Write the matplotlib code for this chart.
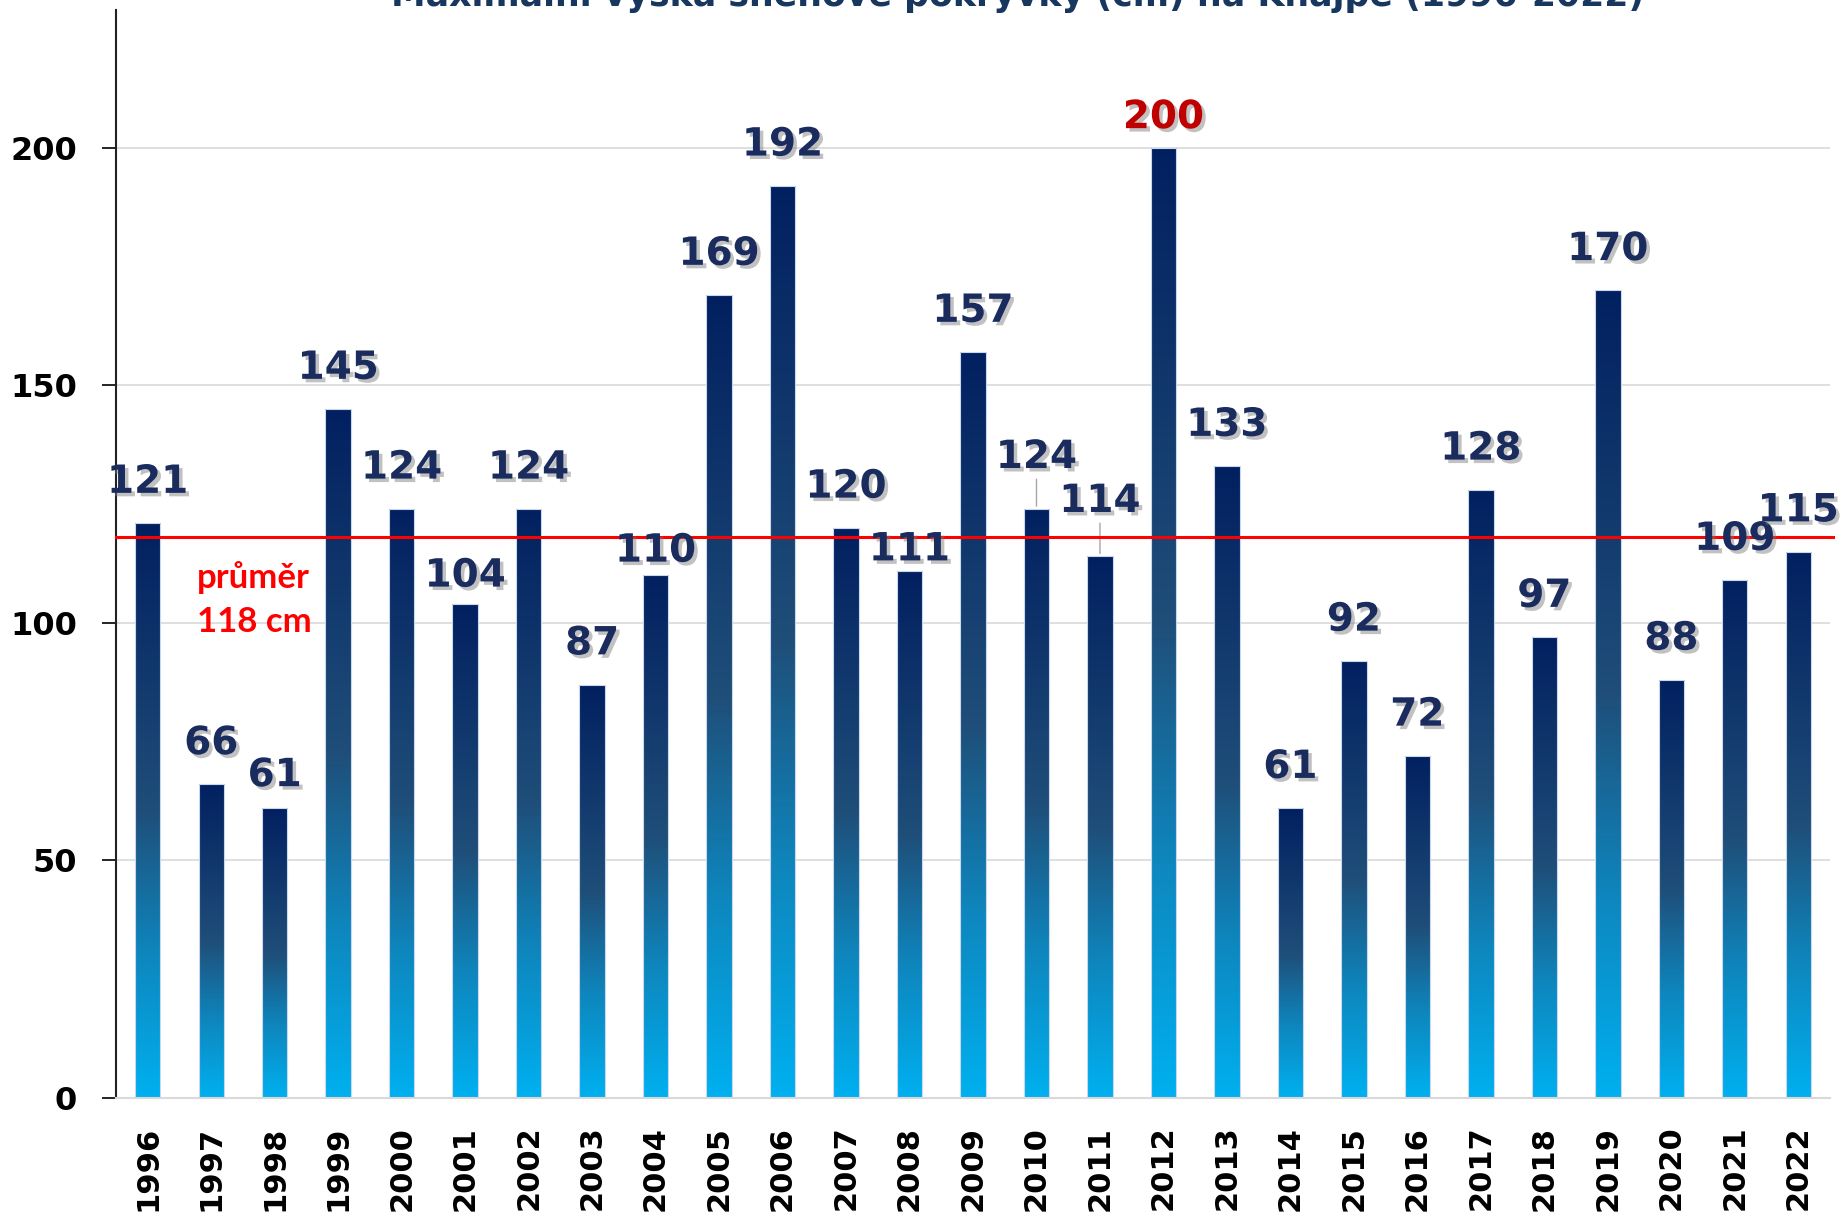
import matplotlib
matplotlib.use("Agg")
import matplotlib.pyplot as plt
import matplotlib.patheffects as pe
from matplotlib.colors import LinearSegmentedColormap
import numpy as np

# data
years = list(range(1996, 2023))
snow = [121, 66, 61, 145, 124, 104, 124, 87, 110, 169, 192, 120, 111, 157,
        124, 114, 200, 133, 61, 92, 72, 128, 97, 170, 88, 109, 115]
average = 118
title = "Maximální výška sněhové pokrývky (cm) na Knajpe (1996-2022)"

# gradient bottom -> top
cmap = LinearSegmentedColormap.from_list(
    "snow", [(0.0, "#00B0F0"), (0.25, "#0E86BD"), (0.5, "#1F4E79"), (1.0, "#022060")])

fig = plt.figure(figsize=(18.47, 12.19), dpi=100)
ax = fig.add_axes([0.0628, 0.0993, 0.928, 0.8925])

x = np.arange(len(years))
w = 0.4
bars = ax.bar(x, snow, width=w, color="none", edgecolor="#C9D8EC", linewidth=0.8, zorder=3)
grad = np.linspace(0, 1, 256).reshape(-1, 1)
for b in bars:
    bx, by = b.get_x(), b.get_height()
    im = ax.imshow(grad, cmap=cmap, origin="lower", aspect="auto",
                   extent=[bx, bx + b.get_width(), 0, by], zorder=2)
    im.set_clip_path(b)

ax.set_xlim(-0.5, len(years) - 0.5)
ax.set_ylim(0, 229)

# average line
ax.plot([-0.5, len(years) - 0.45], [average, average], color="red", lw=2.2, zorder=4, clip_on=False)
ax.text(0.78, 109.6, "průměr", color="red", fontsize=25, fontweight="bold",
        family="Lato", ha="left", va="center", zorder=5)
ax.text(0.78, 100.2, f"{average} cm", color="red", fontsize=25, fontweight="bold",
        family="Lato", ha="left", va="center", zorder=5)

# value labels
shadow = [pe.withSimplePatchShadow(offset=(2.5, -2.5), shadow_rgbFace="#777777", alpha=0.45)]
offs = {1998: 28, 2001: 24, 2004: 21, 2008: 18, 2010: 44, 2011: 47, 2012: 26}
for xi, yr, v in zip(x, years, snow):
    dy = offs.get(yr, 35) * 1.178 * 0.72
    col = "#C00000" if v == max(snow) else "#1A2B5E"
    ax.annotate(str(v), (xi, v), xytext=(0, dy), textcoords="offset points",
                ha="center", va="center", fontsize=28, fontweight="bold",
                color=col, path_effects=shadow, zorder=6)
    if yr in (2010, 2011):
        ax.annotate("", (xi, v), xytext=(0, dy - 14), textcoords="offset points",
                    arrowprops=dict(arrowstyle="-", color="#A6A6A6", lw=1), zorder=2)

# axes styling
ax.set_yticks([0, 50, 100, 150, 200])
ax.yaxis.grid(True, color="#D9D9D9", lw=1.2, zorder=0)
ax.set_axisbelow(True)
ax.set_xticks(x)
ax.set_xticklabels(years, rotation=90, fontsize=22, fontweight="bold")
ax.tick_params(axis="x", length=0, pad=20)
ax.tick_params(axis="y", length=10, width=1.2, pad=18, labelsize=23)
for lab in ax.get_yticklabels():
    lab.set_fontweight("bold")
for s in ("top", "right"):
    ax.spines[s].set_visible(False)
ax.spines["left"].set_color("#222222")
ax.spines["left"].set_linewidth(1.5)
ax.spines["bottom"].set_color("#D9D9D9")
ax.spines["bottom"].set_linewidth(1.5)

fig.text(0.551, 1 - 6 / 1219, title, ha="center", va="baseline", fontsize=25,
         fontweight="bold", color="#17375E")

fig.savefig("out.png", dpi=100)
